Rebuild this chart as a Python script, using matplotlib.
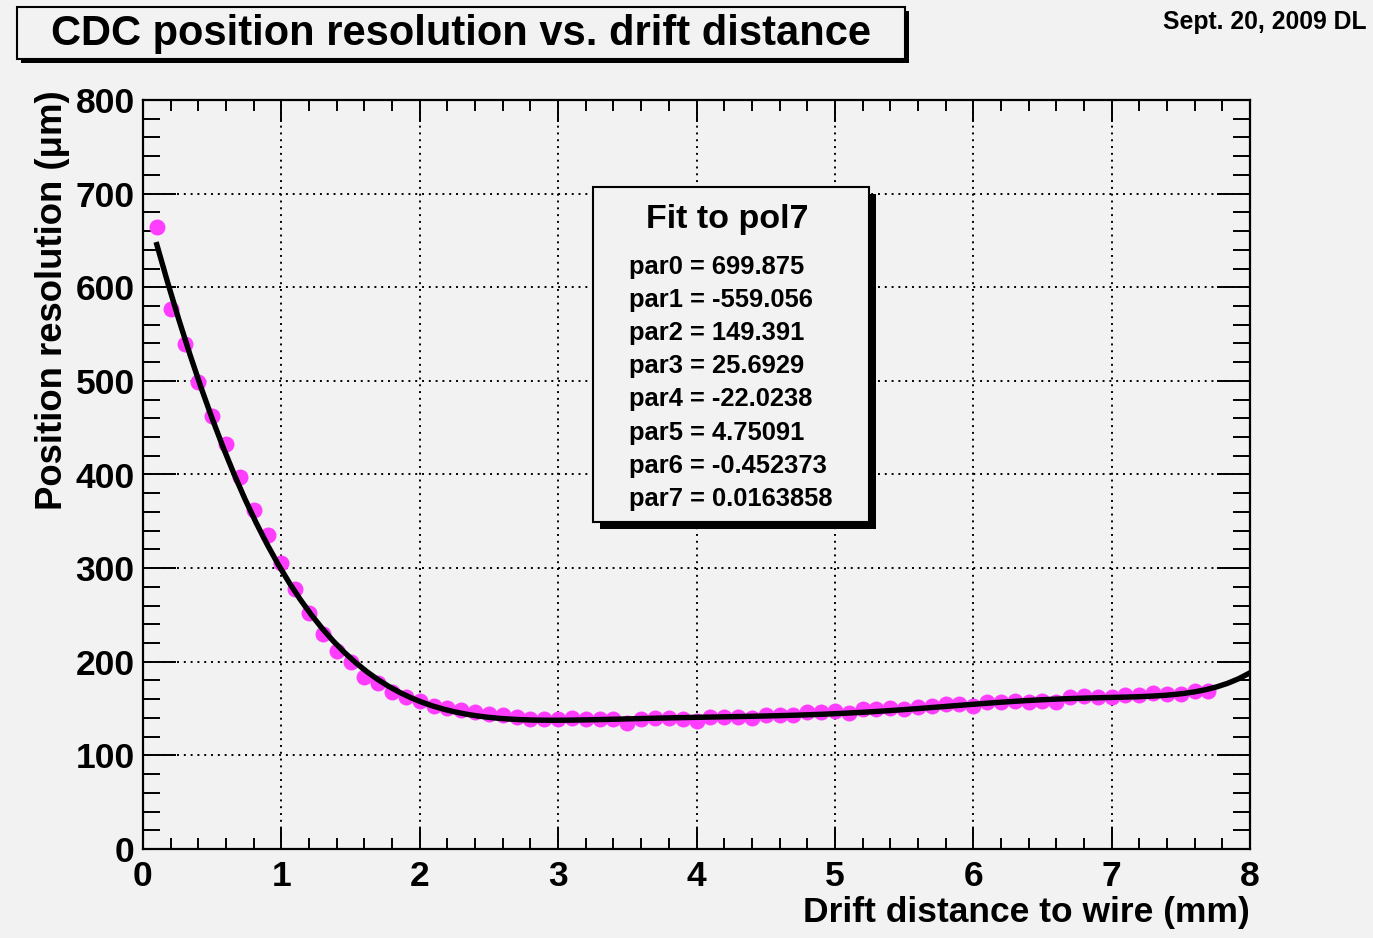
import numpy as np
import matplotlib.pyplot as plt
from matplotlib.patches import Rectangle
from matplotlib.ticker import MultipleLocator

plt.rcParams['font.family'] = ['Liberation Sans', 'DejaVu Sans']
plt.rcParams['font.weight'] = 'bold'

# data
drift_dist = [round(0.1 * i, 1) for i in range(1, 78)]
resolution = [664, 577, 539, 499, 462, 433, 397, 362, 335, 306,
              278, 252, 230, 211, 200, 184, 177, 168, 162, 158,
              153, 151, 148, 146, 144, 143, 141, 139, 139, 139,
              140, 139, 139, 139, 135, 139, 140, 140, 139, 137,
              141, 141, 141, 140, 143, 143, 143, 146, 146, 147,
              145, 150, 149, 151, 150, 152, 153, 155, 155, 153,
              157, 157, 158, 157, 158, 157, 162, 163, 162, 162,
              165, 165, 167, 166, 166, 169, 169]

# pol7 fit parameters (as printed in the box)
fit_pars = [699.875, -559.056, 149.391, 25.6929, -22.0238, 4.75091, -0.452373, 0.0163858]
fit_range = [0.1, 8.0]

title = 'CDC position resolution vs. drift distance'
date_note = 'Sept. 20, 2009 DL'
x_label = 'Drift distance to wire (mm)'
y_label = 'Position resolution (\u03bcm)'

bg = '#f2f2f2'
W, H = 1373, 938
fig = plt.figure(figsize=(W / 100, H / 100), dpi=100, facecolor=bg)
ax = fig.add_axes([143 / W, 1 - 849 / H, 1107 / W, 749 / H], facecolor=bg)

# points, then fit on top
ax.plot(drift_dist, resolution, 'o', color='#ff3dff', markersize=11.5, markeredgewidth=0, zorder=3)
xf = np.linspace(fit_range[0], fit_range[1], 100)
yf = np.polynomial.polynomial.polyval(xf, fit_pars)
ax.plot(xf, yf, color='black', lw=3.9, zorder=4)

ax.set_xlim(0, 8)
ax.set_ylim(0, 800)
ax.set_xticks(range(0, 9))
ax.set_yticks(range(0, 801, 100))
ax.xaxis.set_minor_locator(MultipleLocator(0.2))
ax.yaxis.set_minor_locator(MultipleLocator(20))
ax.tick_params(which='both', direction='in', top=True, right=True, width=1.4, labelsize=25.5)
ax.tick_params(axis='x', which='major', length=16, pad=8)
ax.tick_params(axis='x', which='minor', length=8)
ax.tick_params(axis='y', which='major', length=24, pad=6)
ax.tick_params(axis='y', which='minor', length=12)
for lab in ax.get_xticklabels() + ax.get_yticklabels():
    lab.set_fontweight('bold')
for sp in ax.spines.values():
    sp.set_linewidth(1.6)

ax.grid(which='major', color='black', linestyle=(0, (1, 2.5)), linewidth=1.4)
ax.set_axisbelow(True)

ax.text(1.0, -0.0975, x_label, transform=ax.transAxes, ha='right', va='baseline',
        fontsize=25.5, fontweight='bold')
ax.text(-0.082, 1.013, y_label, transform=ax.transAxes, ha='center', va='top',
        rotation=90, fontsize=26.3, fontweight='bold')

# title box with shadow
def shadow_box(x0, y0, x1, y1, off):
    fig.patches.append(Rectangle(((x0 + off) / W, 1 - (y1 + off) / H), (x1 - x0) / W, (y1 - y0) / H,
                                 transform=fig.transFigure, facecolor='black', edgecolor='none', zorder=5))
    fig.patches.append(Rectangle((x0 / W, 1 - y1 / H), (x1 - x0) / W, (y1 - y0) / H,
                                 transform=fig.transFigure, facecolor=bg, edgecolor='black', lw=1.5, zorder=6))

shadow_box(17, 7, 905, 59, 4)
fig.text(461 / W, 1 - 45 / H, title, ha='center', va='baseline', fontsize=30, fontweight='bold', zorder=7)
fig.text(1163 / W, 1 - 29 / H, date_note, ha='left', va='baseline', fontsize=17.8, fontweight='bold')

# fit results box
shadow_box(593, 187, 869, 522, 7)
fig.text(727 / W, 1 - 228 / H, 'Fit to pol7', ha='center', va='baseline', fontsize=24.5, fontweight='bold', zorder=7)
for i, p in enumerate(fit_pars):
    fig.text(629 / W, 1 - (274 + i * 33.1) / H, f'par{i} = {p:g}', ha='left', va='baseline',
             fontsize=18.4, fontweight='bold', zorder=7)

plt.savefig('out.png', dpi=100, facecolor=bg)
